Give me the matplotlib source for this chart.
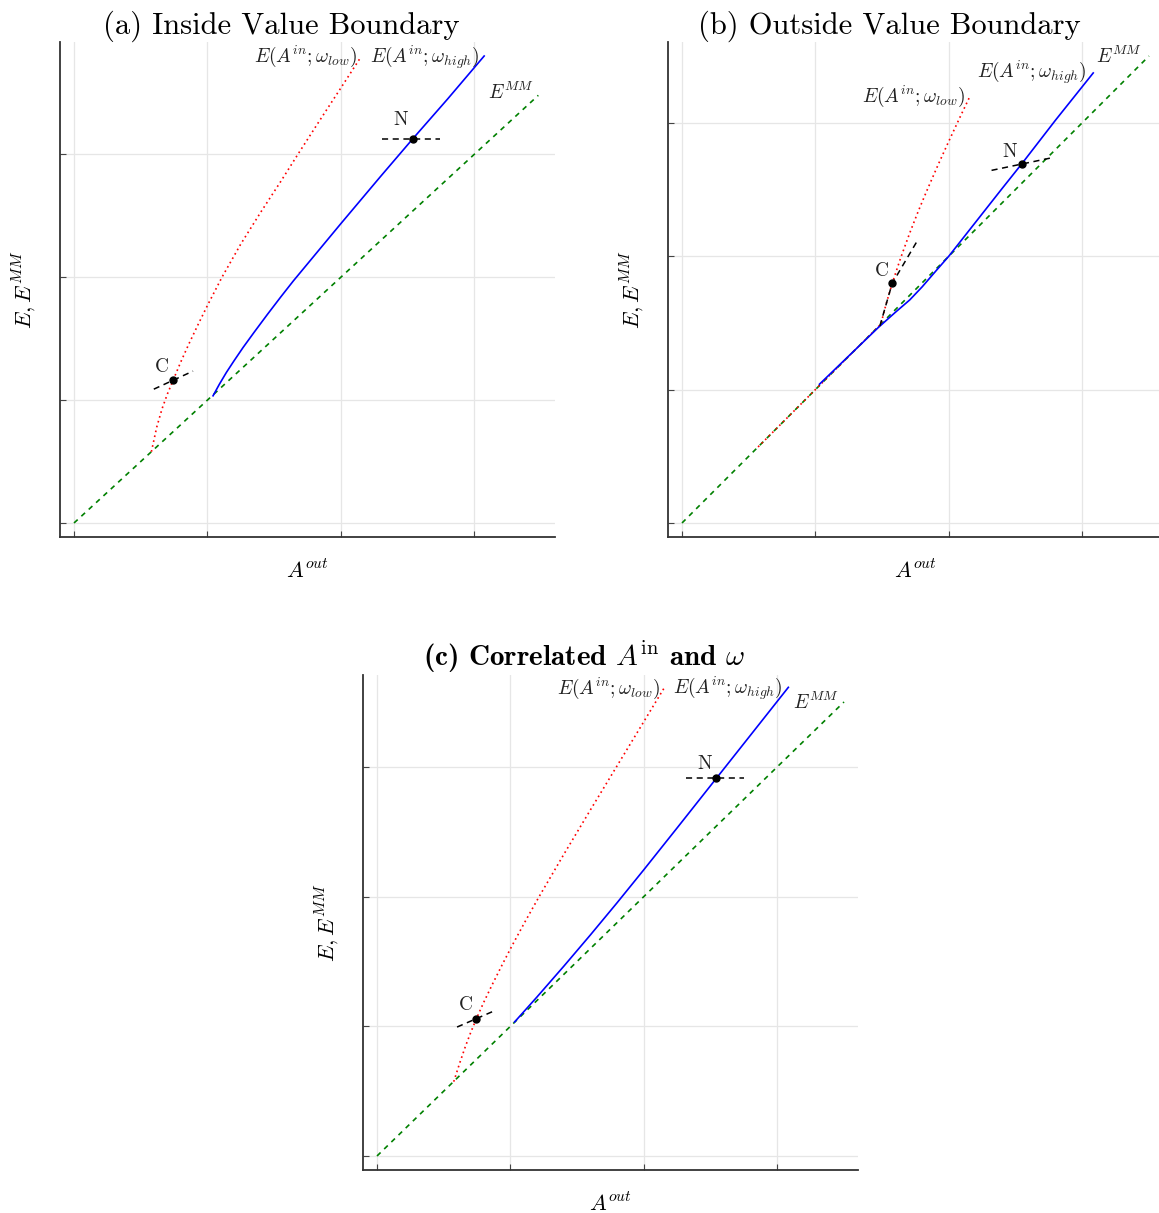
import matplotlib
matplotlib.use("Agg")
import matplotlib.pyplot as plt

plt.rcParams['font.family'] = ['cmr10', 'DejaVu Serif']
plt.rcParams['mathtext.fontset'] = 'cm'
plt.rcParams['axes.unicode_minus'] = False

# ---- data ----
# (a) Inside Value Boundary
a_mm_x = [0.0, 3.48]
a_mm_y = [0.0, 3.48]
a_low_x = [0.58, 0.62, 0.66, 0.70, 0.743, 0.80, 0.86, 0.93, 1.0, 1.109, 1.25, 1.40, 1.55, 1.678, 1.85, 2.0, 2.152]
a_low_y = [0.58, 0.78, 0.93, 1.05, 1.162, 1.31, 1.455, 1.615, 1.77, 2.0, 2.27, 2.53, 2.78, 3.0, 3.29, 3.54, 3.795]
a_high_x = [1.042, 1.09, 1.142, 1.20, 1.267, 1.35, 1.45, 1.55, 1.644, 2.0, 2.30, 2.538, 2.80, 3.074]
a_high_y = [1.035, 1.13, 1.225, 1.321, 1.428, 1.552, 1.698, 1.84, 1.97, 2.436, 2.823, 3.125, 3.45, 3.80]
a_pts = {'C': (0.743, 1.162), 'N': (2.538, 3.125)}
a_tanC_x = [0.598, 0.892]
a_tanC_y = [1.089, 1.236]
a_tanN_x = [2.307, 2.744]
a_tanN_y = [3.125, 3.125]
a_ylim = (-0.114, 3.914)

# (b) Outside Value Boundary
b_mm_x = [0.0, 3.5]
b_mm_y = [0.0, 3.5]
b_low_x = [0.57, 1.0, 1.49, 1.53, 1.575, 1.64, 1.707, 1.77, 1.833, 1.92, 2.0, 2.08, 2.157]
b_low_y = [0.57, 1.0, 1.49, 1.642, 1.795, 1.99, 2.174, 2.335, 2.486, 2.686, 2.862, 3.034, 3.196]
b_high_x = [1.03, 1.47, 1.60, 1.707, 1.80, 1.908, 2.0, 2.2, 2.4, 2.545, 2.8, 3.082]
b_high_y = [1.04, 1.464, 1.58, 1.672, 1.77, 1.895, 2.0, 2.254, 2.508, 2.69, 3.02, 3.373]
b_pts = {'C': (1.575, 1.795), 'N': (2.545, 2.69)}
b_tanC_x = [1.483, 1.575, 1.770]
b_tanC_y = [1.477, 1.795, 2.126]
b_tanN_x = [2.320, 2.770]
b_tanN_y = [2.643, 2.737]
b_ylim = (-0.105, 3.605)

# (c) Correlated A_in and omega
c_mm_x = [0.0, 3.5]
c_mm_y = [0.0, 3.5]
c_low_x = [0.575, 0.62, 0.663, 0.70, 0.743, 0.80, 0.863, 0.94, 1.013, 1.11, 1.213, 1.40, 1.60, 1.80, 2.0, 2.151]
c_low_y = [0.573, 0.717, 0.846, 0.946, 1.054, 1.185, 1.32, 1.478, 1.623, 1.807, 1.996, 2.325, 2.669, 3.009, 3.349, 3.606]
c_high_x = [1.031, 1.2, 1.4, 1.6, 1.8, 2.0, 2.25, 2.543, 2.8, 3.083]
c_high_y = [1.033, 1.227, 1.463, 1.705, 1.953, 2.207, 2.53, 2.911, 3.245, 3.613]
c_pts = {'C': (0.743, 1.058), 'N': (2.543, 2.911)}
c_tanC_x = [0.600, 0.888]
c_tanC_y = [0.994, 1.123]
c_tanN_x = [2.313, 2.753]
c_tanN_y = [2.911, 2.911]
c_ylim = (-0.108, 3.708)

# label anchors (right end / centre)
a_lab = {'low': (2.12, 3.80), 'high': (3.04, 3.79), 'mm': (3.45, 3.50), 'C': (0.662, 1.268), 'N': (2.45, 3.28)}
b_lab = {'low': (2.12, 3.20), 'high': (3.03, 3.38), 'mm': (3.45, 3.50), 'C': (1.50, 1.889), 'N': (2.457, 2.78)}
c_lab = {'low': (2.126, 3.605), 'high': (3.038, 3.605), 'mm': (3.463, 3.50), 'C': (0.668, 1.165), 'N': (2.457, 3.025)}

W, H = 1159, 1213
fig = plt.figure(figsize=(W / 100, H / 100), dpi=100)


def panel(rect, title, mm, low, high, pts, tanC, tanN, ylim, lab, bold=False):
	ax = fig.add_axes(rect)
	ax.plot(mm[0], mm[1], color='green', ls=(0, (3, 3)), lw=1.2)
	ax.plot(low[0], low[1], color='red', ls=(0, (1, 2)), lw=1.2)
	ax.plot(high[0], high[1], color='blue', ls='-', lw=1.2)
	ax.plot(tanC[0], tanC[1], color='black', ls=(0, (4, 3)), lw=1.1)
	ax.plot(tanN[0], tanN[1], color='black', ls=(0, (4, 3)), lw=1.1)
	for k in ('C', 'N'):
		ax.plot(*pts[k], 'o', color='black', ms=5)
		ax.text(*lab[k], k, fontsize=14, ha='center', va='center', color='#222222')
	ax.text(*lab['low'], r'$E(A^{in};\omega_{low})$', fontsize=14, ha='right', va='center', color='#222222')
	ax.text(*lab['high'], r'$E(A^{in};\omega_{high})$', fontsize=14, ha='right', va='center', color='#222222')
	ax.text(*lab['mm'], r'$E^{MM}$', fontsize=14, ha='right', va='center', color='#222222')
	ax.set_xlim(-0.105, 3.605)
	ax.set_ylim(*ylim)
	ax.set_xticks([0, 1, 2, 3])
	ax.set_yticks([0, 1, 2, 3])
	ax.set_xticklabels([])
	ax.set_yticklabels([])
	ax.tick_params(direction='in', length=4, color='#444444')
	ax.grid(True, color='#e6e6e6', lw=0.9)
	ax.set_axisbelow(True)
	for s in ('top', 'right'):
		ax.spines[s].set_visible(False)
	for s in ('left', 'bottom'):
		ax.spines[s].set_color('#333333')
		ax.spines[s].set_linewidth(1.3)
	ax.set_xlabel(r'$A^{out}$', fontsize=16, labelpad=12)
	ax.set_ylabel(r'$E, E^{MM}$', fontsize=16, labelpad=12)
	if bold:
		ax.set_title(title, fontsize=21, family='cmb10', pad=3, x=0.447)
	else:
		ax.set_title(title, fontsize=22, pad=3, x=0.447)
	return ax


sz = 495
panel([60 / W, 1 - 537 / H, sz / W, sz / H], '(a) Inside Value Boundary',
	(a_mm_x, a_mm_y), (a_low_x, a_low_y), (a_high_x, a_high_y), a_pts,
	(a_tanC_x, a_tanC_y), (a_tanN_x, a_tanN_y), a_ylim, a_lab)
panel([668 / W, 1 - 537 / H, sz / W, sz / H], '(b) Outside Value Boundary',
	(b_mm_x, b_mm_y), (b_low_x, b_low_y), (b_high_x, b_high_y), b_pts,
	(b_tanC_x, b_tanC_y), (b_tanN_x, b_tanN_y), b_ylim, b_lab)
panel([363 / W, 1 - 1170 / H, sz / W, sz / H], r'(c) Correlated $A^{\rm in}$ and $\omega$',
	(c_mm_x, c_mm_y), (c_low_x, c_low_y), (c_high_x, c_high_y), c_pts,
	(c_tanC_x, c_tanC_y), (c_tanN_x, c_tanN_y), c_ylim, c_lab, bold=True)

fig.savefig('out.png', dpi=100)
